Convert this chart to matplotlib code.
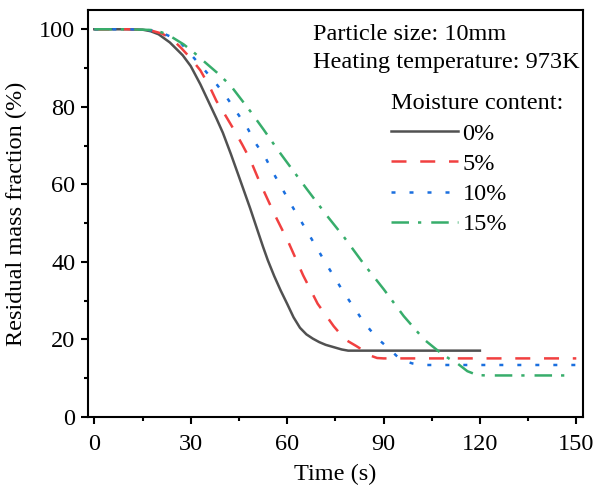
import matplotlib
matplotlib.use('Agg')
import matplotlib.pyplot as plt
from matplotlib.ticker import MultipleLocator

plt.rcParams['font.family'] = ['Liberation Serif', 'DejaVu Serif']

# values
t0 = [0, 10, 15, 17.5, 20, 23.5, 27.5, 30, 33, 35.5, 38, 40, 42.5, 45, 48.5, 51, 52.5, 54, 56, 58, 60, 62, 64, 66, 68, 70, 72, 74.5, 77, 79, 120]
m0 = [100, 100, 99.9, 99.5, 98.7, 96.6, 93.3, 90.5, 85.8, 81.4, 77, 73.3, 67.8, 62, 53.8, 47.6, 43.9, 40.4, 36.3, 32.6, 29.2, 25.7, 23, 21.3, 20.2, 19.3, 18.6, 18, 17.4, 17.1, 17.1]

t5 = [0, 10, 15, 18, 21, 24, 27, 30, 33, 36, 38, 41, 43.5, 46, 48.5, 51.5, 56, 60.5, 65, 69.5, 74.5, 78, 81.5, 84, 86, 88, 90, 150]
m5 = [100, 100, 99.9, 99.6, 98.9, 97.6, 95.2, 92.5, 89.4, 85, 81.5, 77.5, 74, 70.3, 66.4, 60.5, 52.4, 44.9, 36.5, 29.2, 23.4, 20, 18.3, 17, 15.8, 15.2, 15.1, 15.1]

t10 = [0, 10, 15, 18, 21, 24, 27.3, 31, 34.5, 37.7, 41.3, 44.4, 47.6, 50.2, 53.3, 56, 61.6, 66.2, 72, 77.7, 84, 88, 91.5, 94, 96, 99, 102, 150]
m10 = [100, 100, 99.9, 99.7, 99.1, 98, 96.1, 92.6, 89.3, 86.2, 82.3, 78.5, 74.6, 70.6, 66.8, 62.5, 54.3, 47.9, 39.7, 32, 24.3, 20.3, 17.8, 15.8, 14.6, 13.8, 13.4, 13.4]

t15 = [0, 10, 15, 18, 21, 23.7, 27.8, 31, 34, 38.2, 42.4, 46, 48.6, 52.7, 57, 61, 66.2, 72.5, 77.7, 84, 90.1, 96.3, 102.6, 107.8, 110.5, 113, 116.1, 119.2, 122, 147]
m15 = [100, 100, 99.9, 99.8, 99.2, 98.2, 96.1, 94, 91.8, 88.8, 85.5, 81.6, 78.8, 74.1, 69, 64.5, 58.7, 51.8, 46.4, 39.3, 32.9, 26, 20, 16.5, 15, 13.8, 11.8, 10.8, 10.7, 10.7]

labels = ['0%', '5%', '10%', '15%']

fs = 17.5
fig = plt.figure(figsize=(5.94, 4.94), dpi=100)
ax = fig.add_axes([0.148, 0.156, 0.833, 0.824])

lw = 1.8
ax.plot(t0, m0, color='#515151', lw=lw, label=labels[0])
ax.plot(t5, m5, color='#F14040', lw=lw, dashes=(6, 5.5), label=labels[1])
ax.plot(t10, m10, color='#1A6FDF', lw=lw, dashes=(1.6, 5.6), label=labels[2])
ax.plot(t15, m15, color='#37AD6B', lw=lw, dashes=(7, 3.6, 1.3, 4), label=labels[3])

ax.set_xlim(-2, 152)
ax.set_ylim(0, 105)
ax.xaxis.set_major_locator(MultipleLocator(30))
ax.xaxis.set_minor_locator(MultipleLocator(15))
ax.yaxis.set_major_locator(MultipleLocator(20))
ax.yaxis.set_minor_locator(MultipleLocator(10))
ax.tick_params(which='major', direction='out', length=5, width=1.5, labelsize=fs, pad=4)
ax.tick_params(which='minor', direction='out', length=3, width=1.5)
ax.tick_params(axis='x', which='major', pad=7)
for s in ax.spines.values():
    s.set_linewidth(1.5)

ax.set_xlabel('Time (s)', fontsize=fs, labelpad=7)
ax.set_ylabel('Residual mass fraction (%)', fontsize=fs, labelpad=9)

ax.text(0.454, 0.939, 'Particle size: 10mm', transform=ax.transAxes,
        fontsize=fs, va='center', ha='left')
ax.text(0.454, 0.870, 'Heating temperature: 973K', transform=ax.transAxes,
        fontsize=fs, va='center', ha='left')

leg = ax.legend(title='Moisture content:', loc='upper left', bbox_to_anchor=(0.612, 0.795),
                frameon=False, fontsize=fs, title_fontsize=fs, alignment='left',
                handlelength=2.75, handletextpad=0.2, labelspacing=0.34,
                borderaxespad=0, borderpad=0)

fig.savefig('out.png', dpi=100)
